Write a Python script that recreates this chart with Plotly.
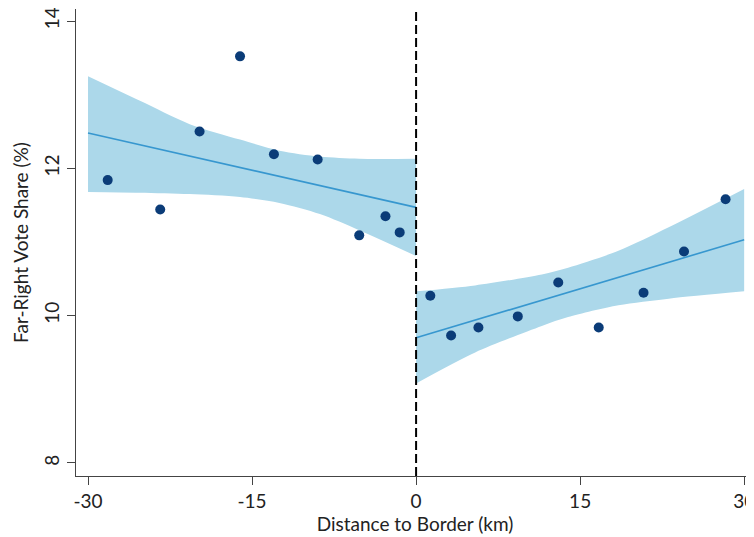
import plotly.graph_objects as go

# Binned scatter points
left_x = [-28.2, -23.4, -19.8, -16.1, -13.0, -9.0, -5.2, -2.8, -1.5]
left_y = [11.84, 11.44, 12.50, 13.52, 12.19, 12.12, 11.09, 11.35, 11.13]
right_x = [1.3, 3.2, 5.7, 9.3, 13.0, 16.7, 20.8, 24.5, 28.3]
right_y = [10.27, 9.73, 9.84, 9.99, 10.45, 9.84, 10.31, 10.87, 11.58]

# Linear fits
left_fit_x = [-30, 0]
left_fit_y = [12.48, 11.47]
right_fit_x = [0, 30]
right_fit_y = [9.70, 11.03]

# Confidence bands
left_band_x = [-30, -25.3, -20.7, -16.1, -12.5, -8.8, -5.2, 0]
left_band_hi = [13.25, 12.92, 12.60, 12.39, 12.24, 12.16, 12.13, 12.13]
left_band_lo = [11.68, 11.67, 11.65, 11.61, 11.53, 11.38, 11.16, 10.81]
right_band_x = [0, 5.4, 11.5, 13.9, 18.5, 23.1, 30]
right_band_hi = [10.33, 10.41, 10.56, 10.65, 10.88, 11.20, 11.72]
right_band_lo = [9.08, 9.50, 9.86, 9.98, 10.14, 10.23, 10.33]

x_ticks = [-30, -15, 0, 15, 30]
x_tick_text = ["-30", "-15", "0", "15", "30"]
y_ticks = [8, 10, 12, 14]

FILL = "#acd8ea"
LINE = "#3797cf"
DOT = "#0b3c78"
FONT = "Lato"

fig = go.Figure()
for bx, hi, lo in [(left_band_x, left_band_hi, left_band_lo),
                   (right_band_x, right_band_hi, right_band_lo)]:
    fig.add_trace(go.Scatter(x=bx, y=lo, mode="lines",
                             line=dict(width=0, color=FILL, shape="spline", smoothing=0.8),
                             hoverinfo="skip", showlegend=False))
    fig.add_trace(go.Scatter(x=bx, y=hi, mode="lines", fill="tonexty", fillcolor=FILL,
                             line=dict(width=0, color=FILL, shape="spline", smoothing=0.8),
                             hoverinfo="skip", showlegend=False))
for fx, fy in [(left_fit_x, left_fit_y), (right_fit_x, right_fit_y)]:
    fig.add_trace(go.Scatter(x=fx, y=fy, mode="lines", line=dict(color=LINE, width=1.6),
                             showlegend=False))
fig.add_trace(go.Scatter(x=left_x + right_x, y=left_y + right_y, mode="markers",
                         marker=dict(color=DOT, size=10), showlegend=False))

fig.add_shape(type="line", xref="x", yref="paper", x0=0, x1=0, y0=0, y1=1,
              line=dict(color="black", width=2, dash="9px,4px"))

fig.update_layout(
    width=746, height=529,
    margin=dict(l=68, r=0, t=1, b=61),
    plot_bgcolor="white", paper_bgcolor="white",
    font=dict(family=FONT, size=19, color="#222"),
    showlegend=False,
)
fig.update_xaxes(range=[-31.1, 30.9], tickvals=x_ticks, ticktext=x_tick_text,
                 ticks="outside", ticklen=8, automargin=False, ticklabeloverflow="allow",
                 tickcolor="#444", tickwidth=1.3, showline=True, linecolor="#444", linewidth=1.3,
                 showgrid=False, zeroline=False,
                 title=dict(text="Distance to Border (km)", standoff=2, font=dict(size=19)),
                 tickfont=dict(size=19))
fig.update_yaxes(range=[7.823, 14.163], tickvals=y_ticks, ticks="outside", ticklen=8,
                 automargin=False, ticklabeloverflow="allow",
                 tickcolor="#444", tickwidth=1.3, showline=True, linecolor="#444", linewidth=1.3,
                 showgrid=False, zeroline=False, tickangle=-90,
                 title=dict(text="Far-Right Vote Share (%)", standoff=6, font=dict(size=19)),
                 tickfont=dict(size=19))

fig.write_html("out.html")
